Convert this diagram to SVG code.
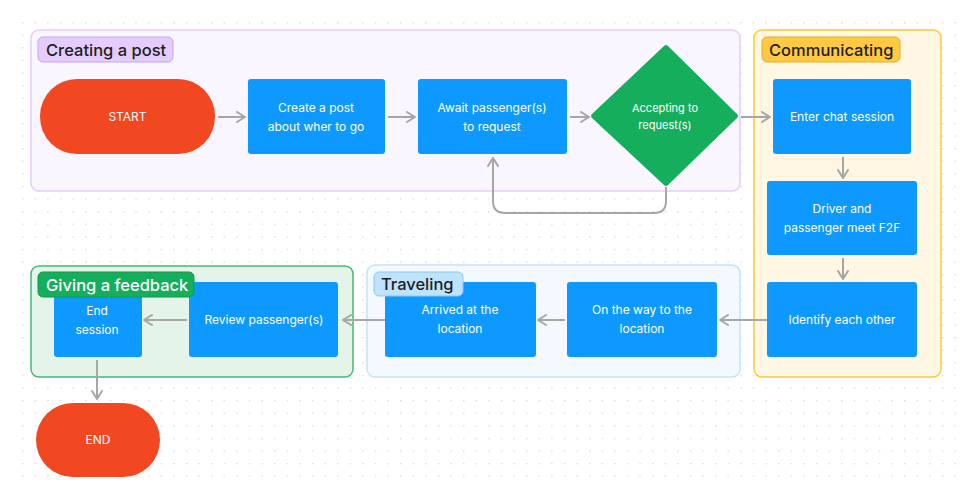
<svg xmlns="http://www.w3.org/2000/svg" width="976" height="498" viewBox="0 0 976 498">
<defs>
<pattern id="dots" x="22" y="22" width="12.6" height="12.6" patternUnits="userSpaceOnUse">
<circle cx="0.8" cy="0.8" r="0.75" fill="#cfcfcf"/>
</pattern>
<marker id="arr" viewBox="0 0 12 12" refX="10" refY="6" markerWidth="12" markerHeight="12" markerUnits="userSpaceOnUse" orient="auto">
<path d="M2,1 L10,6 L2,11" fill="none" stroke="#a6a6a6" stroke-width="2" stroke-linecap="round" stroke-linejoin="round"/>
</marker>
<style>
.box{fill:#0d99ff}
.term{fill:#f24822}
.t{font-family:Inter,"Liberation Sans",sans-serif;font-size:12px;fill:#ffffff;text-anchor:middle}
.lbl{font-family:Inter,"Liberation Sans",sans-serif;font-size:16.5px;font-weight:500;fill:#1e1e1e}
.c{fill:none;stroke:#a6a6a6;stroke-width:2;marker-end:url(#arr)}
</style>
</defs>
<rect width="976" height="498" fill="#ffffff"/>
<rect x="15" y="15" width="948" height="472" fill="url(#dots)"/>

<g id="frame-creating">
<rect x="31" y="30" width="709" height="161" rx="8" fill="#faf6ff" stroke="#e4cdfb" stroke-width="1.5"/>
<rect x="38" y="37" width="135" height="25" rx="5" fill="#e4ccfd" stroke="#c7a3f0" stroke-width="1"/>
<text class="lbl" x="46" y="55.5">Creating a post</text>
</g>
<g id="frame-communicating">
<rect x="754" y="30" width="187" height="347" rx="8" fill="#fff6e3" stroke="#f9c940" stroke-width="1.5"/>
<rect x="762" y="37" width="138" height="25" rx="5" fill="#ffc943" stroke="#e2ad28" stroke-width="1"/>
<text class="lbl" x="769" y="55.5">Communicating</text>
</g>
<g id="frame-traveling">
<rect x="367" y="265" width="373" height="112" rx="8" fill="#f3f9ff" stroke="#c3e3fb" stroke-width="1.5"/>
</g>
<g id="frame-feedback">
<rect x="31" y="266" width="322" height="111" rx="8" fill="#e4f4e9" stroke="#47b876" stroke-width="1.5"/>
</g>

<g id="connectors">
<line class="c" x1="218" y1="117" x2="245" y2="117"/>
<line class="c" x1="388" y1="117" x2="415" y2="117"/>
<line class="c" x1="570" y1="117" x2="589" y2="117"/>
<path class="c" d="M666,187 L666,201 Q666,213 654,213 L505,213 Q493,213 493,201 L493,158"/>
<line class="c" x1="741" y1="117" x2="770" y2="117"/>
<line class="c" x1="843" y1="157" x2="843" y2="178"/>
<line class="c" x1="843" y1="258" x2="843" y2="279"/>
<line class="c" x1="767" y1="320" x2="720" y2="320"/>
<line class="c" x1="565" y1="320" x2="538" y2="320"/>
<line class="c" x1="385" y1="320" x2="343" y2="320"/>
<line class="c" x1="187" y1="320" x2="144" y2="320"/>
<line class="c" x1="97" y1="360" x2="97" y2="399"/>
</g>

<g id="start">
<rect class="term" x="40" y="79" width="175" height="75" rx="37"/>
<text class="t" x="127.5" y="121">START</text>
</g>
<g id="create-post">
<rect class="box" x="248" y="79" width="137" height="75" rx="3"/>
<text class="t" x="316" y="112">Create a post</text>
<text class="t" x="316" y="131">about wher to go</text>
</g>
<g id="await">
<rect class="box" x="418" y="79" width="149" height="75" rx="3"/>
<text class="t" x="492" y="112">Await passenger(s)</text>
<text class="t" x="492" y="131">to request</text>
</g>
<g id="accepting">
<path d="M666,46 Q668,44 670,46 L739,114 Q741,116 739,118 L670,185 Q668,187 666,185 L594,118 Q592,116 594,114 Z" fill="#14ae5c" transform="translate(-2,0)"/>
<text class="t" x="665" y="112" style="font-size:11px">Accepting to</text>
<text class="t" x="665" y="129" style="font-size:11px">request(s)</text>
</g>
<g id="enter-chat">
<rect class="box" x="773" y="79" width="138" height="75" rx="3"/>
<text class="t" x="842" y="121">Enter chat session</text>
</g>
<g id="meet">
<rect class="box" x="767" y="181" width="150" height="74" rx="3"/>
<text class="t" x="842" y="213">Driver and</text>
<text class="t" x="842" y="232">passenger meet F2F</text>
</g>
<g id="identify">
<rect class="box" x="767" y="282" width="150" height="75" rx="3"/>
<text class="t" x="842" y="324">Identify each other</text>
</g>
<g id="on-the-way">
<rect class="box" x="567" y="282" width="150" height="75" rx="3"/>
<text class="t" x="642" y="314">On the way to the</text>
<text class="t" x="642" y="333">location</text>
</g>
<g id="arrived">
<rect class="box" x="385" y="282" width="151" height="75" rx="3"/>
<text class="t" x="460" y="314">Arrived at the</text>
<text class="t" x="460" y="333">location</text>
</g>
<g id="traveling-label">
<rect x="374" y="272" width="89" height="24" rx="5" fill="#bde3ff" stroke="#8fc6ee" stroke-width="1"/>
<text class="lbl" x="381" y="290">Traveling</text>
</g>
<g id="review">
<rect class="box" x="189" y="282" width="149" height="75" rx="3"/>
<text class="t" x="264" y="324">Review passenger(s)</text>
</g>
<g id="end-session">
<rect class="box" x="54" y="282" width="88" height="75" rx="3"/>
<text class="t" x="97" y="315">End</text>
<text class="t" x="97" y="334">session</text>
</g>
<g id="feedback-label">
<rect x="38" y="272" width="156" height="25" rx="5" fill="#14ae5c" stroke="#0d9a4d" stroke-width="1"/>
<text class="lbl" x="46" y="290.5" style="fill:#ffffff">Giving a feedback</text>
</g>
<g id="end">
<rect class="term" x="36" y="403" width="124" height="74" rx="37"/>
<text class="t" x="98" y="444">END</text>
</g>
</svg>
